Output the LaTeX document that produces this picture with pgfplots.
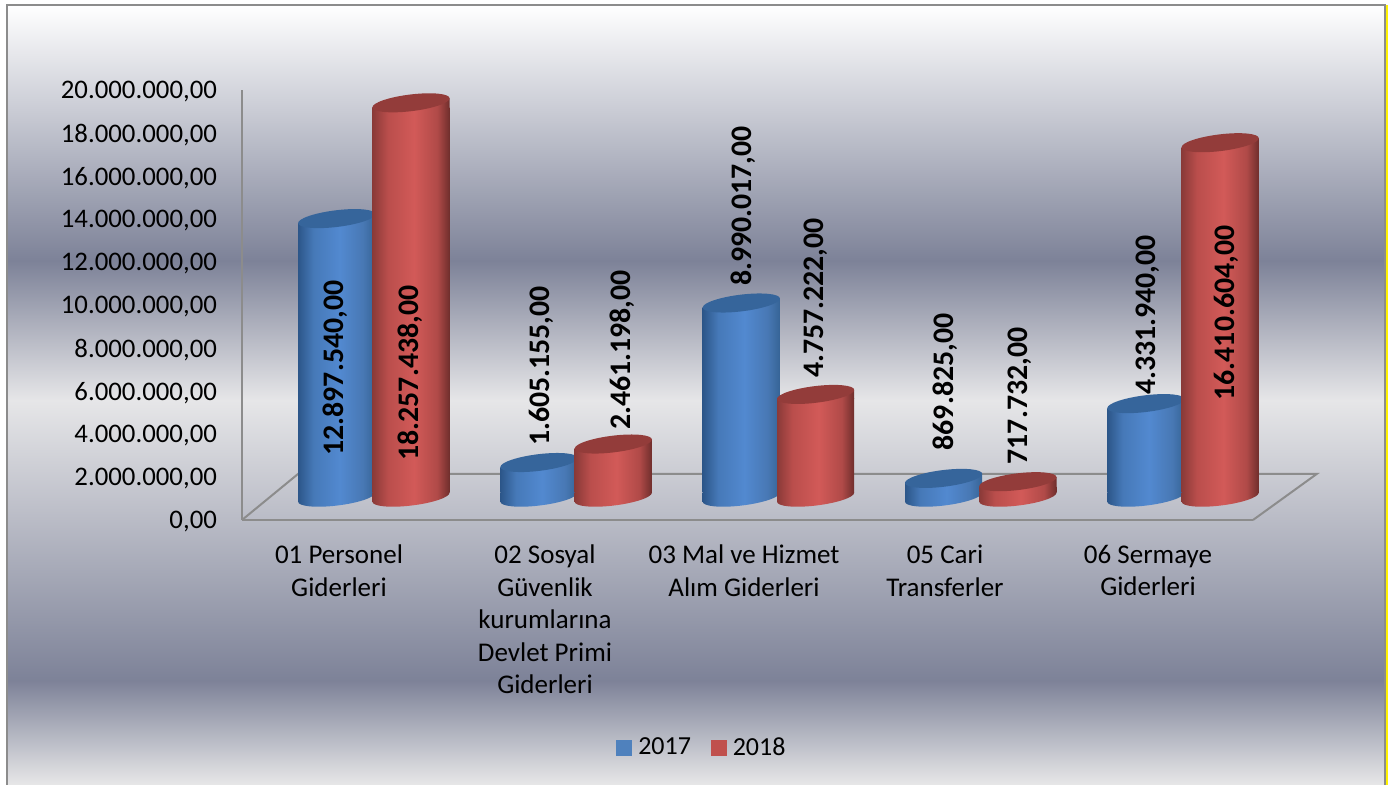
\documentclass[border=0pt]{standalone}
\usepackage{pgfplots}
\usepackage{pgfplotstable}
\pgfplotsset{compat=1.18}
\usepackage{fontspec}
\setmainfont{Carlito}
\definecolor{axgray}{HTML}{8C8C8C}
\definecolor{leg17}{HTML}{4F81BD}
\definecolor{leg18}{HTML}{C0504D}
\definecolor{capblue}{HTML}{36659B}
\definecolor{capred}{HTML}{933C3A}
\definecolor{bgA}{HTML}{E7E7E8}
\definecolor{bgB}{HTML}{7D8298}
\definecolor{bgC}{HTML}{E6E6E8}
\definecolor{bA}{HTML}{2C5689}
\definecolor{bB}{HTML}{4679B8}
\definecolor{bC}{HTML}{5289D0}
\definecolor{bD}{HTML}{4878B4}
\definecolor{bE}{HTML}{366496}
\definecolor{rA}{HTML}{8A3A38}
\definecolor{rB}{HTML}{BA4E4C}
\definecolor{rC}{HTML}{D25A58}
\definecolor{rD}{HTML}{B04A48}
\definecolor{rE}{HTML}{6F2E2C}
% background: 25bp = bottom of the picture, 75bp = top of the frame
\pgfdeclareverticalshading{bgsilver}{100bp}{
  color(0bp)=(bgA);
  color(25bp)=(bgA);
  color(31.7bp)=(bgB);
  color(49.65bp)=(bgC);
  color(58.6bp)=(bgB);
  color(75bp)=(white);
  color(100bp)=(white)}
\pgfdeclarehorizontalshading{cylblue}{100bp}{
  color(0bp)=(bA);
  color(25bp)=(bA);
  color(35bp)=(bB);
  color(52bp)=(bC);
  color(67bp)=(bD);
  color(75bp)=(bE);
  color(100bp)=(bE)}
\pgfdeclarehorizontalshading{cylred}{100bp}{
  color(0bp)=(rA);
  color(25bp)=(rA);
  color(35bp)=(rB);
  color(52bp)=(rC);
  color(67bp)=(rD);
  color(75bp)=(rE);
  color(100bp)=(rE)}
% cylinder ends: origin is 2.25pt below the centre of the tilted ellipse
\newcommand\cylbasepath{%
  \pgfpathmoveto{\pgfqpoint{-19.3pt}{0pt}}%
  \pgfpathcurveto{\pgfqpoint{-19.3pt}{-2.32pt}}{\pgfqpoint{-10.66pt}{-3.2pt}}{\pgfqpoint{0pt}{-1.95pt}}%
  \pgfpathcurveto{\pgfqpoint{10.66pt}{-0.7pt}}{\pgfqpoint{19.3pt}{2.18pt}}{\pgfqpoint{19.3pt}{4.5pt}}%
  \pgfpathlineto{\pgfqpoint{-19.3pt}{4.5pt}}%
  \pgfpathclose}
\newcommand\cyltoppath{%
  \pgfpathmoveto{\pgfqpoint{-19.3pt}{0pt}}%
  \pgfpathlineto{\pgfqpoint{19.3pt}{4.5pt}}%
  \pgfpathlineto{\pgfqpoint{19.3pt}{0pt}}%
  \pgfpathclose}
\newcommand\cylcappath{%
  \pgfpathellipse{\pgfqpoint{0pt}{2.25pt}}{\pgfqpoint{19.3pt}{2.25pt}}{\pgfqpoint{0pt}{4.2pt}}}
\pgfdeclareplotmark{basesblue}{\cylbasepath\pgfshadepath{cylblue}{0}\pgfusepath{discard}}
\pgfdeclareplotmark{basesred}{\cylbasepath\pgfshadepath{cylred}{0}\pgfusepath{discard}}
\pgfdeclareplotmark{capsblue}{\cyltoppath\pgfshadepath{cylblue}{0}\pgfusepath{discard}%
  \pgfsetfillcolor{capblue}\cylcappath\pgfusepath{fill}}
\pgfdeclareplotmark{capsred}{\cyltoppath\pgfshadepath{cylred}{0}\pgfusepath{discard}%
  \pgfsetfillcolor{capred}\cylcappath\pgfusepath{fill}}
\pgfplotstableread{
v17 v18 l17 l18 dxa dya dxb dyb
12897540 18257438 12.897.540,00 18.257.438,00 -0.85 -72.5 -0.5 -132.9
1605155 2461198 1.605.155,00 2.461.198,00 1 50.5 4.35 49.25
8990017 4757222 8.990.017,00 4.757.222,00 0.85 50.75 0.2 50.45
869825 717732 869.825,00 717.732,00 0.7 50.45 1.05 45.1
4331940 16410604 4.331.940,00 16.410.604,00 1.05 46.55 2.9 -82.9
}\budget
% one bar per plot, so that each is shaded across its own width
\newcommand\onebar[4]{% shading, x start, column, row
  \addplot[ybar,bar width=38.6pt,bar shift=0pt,draw=none,shade,shading=#1,mark=none,
    skip coords between index={0}{#4},
    skip coords between index={\numexpr#4+1\relax}{5}]
    table[x expr=#2+202.3*\coordindex,y=#3,meta=#3] {\budget};}
\begin{document}
\begin{tikzpicture}
\path[use as bounding box] (0,0) rectangle (697pt,392.5pt);
\shade[shading=bgsilver] (3.5pt,0pt) rectangle (693pt,390pt);
\draw[axgray,line width=1pt] (3.4pt,0pt) -- (3.4pt,390.2pt) -- (692.7pt,390.2pt) -- (692.7pt,0pt);
\draw[yellow,line width=0.9pt] (693.6pt,0pt) -- (693.6pt,390pt);
\begin{axis}[
  at={(121pt,132.5pt)},anchor=origin,
  scale only axis,width=505.5pt,height=215pt,
  xmin=242,xmax=1253,ymin=0,ymax=20000000,
  axis x line=bottom,axis y line=left,
  axis line style={draw=axgray,line width=1.2pt,-},
  clip=false,
  major tick length=0pt,
  ytick={0,2000000,...,20000000},
  scaled y ticks=false,
  /pgf/number format/use comma,
  /pgf/number format/1000 sep={.},
  /pgf/number format/fixed,
  /pgf/number format/fixed zerofill,
  /pgf/number format/precision=2,
  /pgf/number format/assume math mode=true,
  tick label style={font=\fontsize{13.4}{15}\selectfont},
  y tick label style={xshift=-9pt,yshift=-1pt},
  xtick={339,545,744,945,1148},
  xticklabels={{01 Personel\\Giderleri},{02 Sosyal\\Güvenlik\\kurumlarına\\Devlet Primi\\Giderleri},{03 Mal ve Hizmet\\Alım Giderleri},{05 Cari\\Transferler},{06 Sermaye\\Giderleri}},
  x tick label style={align=center,anchor=north,yshift=-9pt,font=\fontsize{13.5}{16.25}\selectfont},
  legend style={at={(0.456,-0.53)},anchor=center,draw=none,fill=none,legend columns=2,
    font=\fontsize{13}{15}\selectfont,/tikz/every even column/.append style={column sep=8pt}},
]
\addlegendimage{legend image code/.code={\fill[leg17] (0pt,-3.75pt) rectangle (7.5pt,3.75pt);}}
\addlegendentry{\hspace{1pt}2017}
\addlegendimage{legend image code/.code={\fill[leg18] (0pt,-3.75pt) rectangle (7.5pt,3.75pt);}}
\addlegendentry{\hspace{1pt}2018}
\draw[axgray,line width=1pt] (axis cs:242,0) -- (axis cs:298,2139535) -- (axis cs:1316.7,2139535) -- (axis cs:1253,0);
\end{axis}
\begin{axis}[
  at={(121pt,146.15pt)},anchor=origin,
  scale only axis,width=505.5pt,height=201.35pt,
  xmin=242,xmax=1253,ymin=416667,ymax=19060185,
  hide axis,clip=false,clip mode=individual,
  point meta=explicit symbolic,
]
% 2017
\addplot[only marks,mark=basesblue] table[x expr=336.7+202.3*\coordindex,y expr=0,meta=l17] {\budget};
\onebar{cylblue}{336.7}{v17}{0}
\onebar{cylblue}{336.7}{v17}{1}
\onebar{cylblue}{336.7}{v17}{2}
\onebar{cylblue}{336.7}{v17}{3}
\onebar{cylblue}{336.7}{v17}{4}
\addplot[only marks,mark=capsblue,
  visualization depends on={\thisrow{dxa} \as \dxa},
  visualization depends on={\thisrow{dya} \as \dya},
  nodes near coords={\pgfplotspointmeta},
  every node near coord/.append style={xshift=\dxa pt,yshift=\dya pt,rotate=90,anchor=center,inner sep=0pt,font=\bfseries\fontsize{14.9}{16}\selectfont,text=black},
  ] table[x expr=336.7+202.3*\coordindex,y=v17,meta=l17] {\budget};
% 2018
\addplot[only marks,mark=basesred] table[x expr=411+202.3*\coordindex,y expr=0,meta=l18] {\budget};
\onebar{cylred}{411}{v18}{0}
\onebar{cylred}{411}{v18}{1}
\onebar{cylred}{411}{v18}{2}
\onebar{cylred}{411}{v18}{3}
\onebar{cylred}{411}{v18}{4}
\addplot[only marks,mark=capsred,
  visualization depends on={\thisrow{dxb} \as \dxb},
  visualization depends on={\thisrow{dyb} \as \dyb},
  nodes near coords={\pgfplotspointmeta},
  every node near coord/.append style={xshift=\dxb pt,yshift=\dyb pt,rotate=90,anchor=center,inner sep=0pt,font=\bfseries\fontsize{14.9}{16}\selectfont,text=black},
  ] table[x expr=411+202.3*\coordindex,y=v18,meta=l18] {\budget};
\end{axis}
\end{tikzpicture}
\end{document}
